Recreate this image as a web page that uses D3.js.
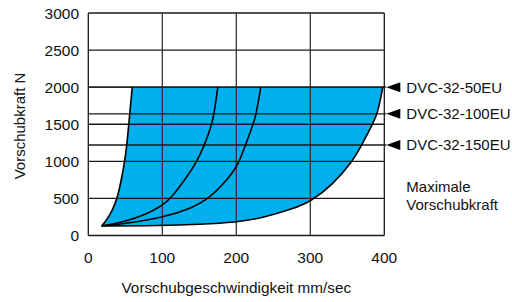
<!DOCTYPE html>
<html>
<head>
<meta charset="utf-8">
<script src="https://cdn.jsdelivr.net/npm/d3@7"></script>
<style>
  body { margin: 0; background: #fff; }
  text { font-family: "Liberation Sans", Arial, sans-serif; fill: #111; }
</style>
</head>
<body>
<div id="chart"></div>
<script>
// values: [speed mm/sec, force N]
const curve50 = [[18, 128], [24.8, 209], [31.6, 321], [39.7, 500], [48.6, 953], [52, 1210], [54.7, 1500], [56, 1640], [59.4, 2000]];
const curve100 = [[18, 128], [49.5, 186], [76.5, 277], [100, 402], [111.6, 500], [135, 816], [144, 953], [157, 1210], [167, 1500], [170, 1640], [175, 2000]];
const curve150 = [[18, 128], [54, 165], [100, 240], [139.5, 367], [164, 500], [191, 790], [202.4, 953], [212, 1210], [223, 1500], [227, 1640], [233, 2000]];
const curveMax = [[18, 128], [100, 132], [150, 150], [200, 178], [234, 232], [279, 367], [300, 456], [330, 680], [357, 1000], [369, 1210], [384, 1500], [391, 1640], [398, 2000]];

const models = ['DVC-32-50EU', 'DVC-32-100EU', 'DVC-32-150EU'];
const modelForce = [2000, 1640, 1220];

const yTicks = [0, 500, 1000, 1500, 2000, 2500, 3000];
const xTicks = [0, 100, 200, 300, 400];

const W = 512, H = 302;
const plot = {left: 88.3, right: 384.3, top: 13, bottom: 235.5};

const svg = d3.select('#chart').append('svg')
  .attr('width', W)
  .attr('height', H);

const x = d3.scaleLinear().domain([0, 400]).range([plot.left, plot.right]);
const y = d3.scaleLinear().domain([0, 3000]).range([plot.bottom, plot.top]);

const line = d3.line()
  .x(d => x(d[0]))
  .y(d => y(d[1]))
  .curve(d3.curveBasis);

function sampled(pts) {
  // sample the smooth curve through a hidden path so the fill follows the stroke
  const p = svg.append('path').attr('d', line(pts)).attr('visibility', 'hidden');
  const node = p.node();
  const len = node.getTotalLength();
  const out = [];
  for (let i = 0; i <= 200; i++) {
    const pt = node.getPointAtLength(len * i / 200);
    out.push([x.invert(pt.x), y.invert(pt.y)]);
  }
  p.remove();
  return out;
}

// blue area: left curve up, across the top, right curve down
svg.append('path')
  .attr('d', d3.line().x(d => x(d[0])).y(d => y(d[1]))(
    sampled(curve50).concat(sampled(curveMax).reverse())))
  .attr('fill', '#00b0ee');

// grid
const grid = svg.append('g').attr('stroke', '#1a1a1a').attr('stroke-width', 1.3);
grid.selectAll('line.h')
  .data(yTicks)
  .join('line')
  .attr('x1', plot.left).attr('x2', plot.right)
  .attr('y1', d => y(d)).attr('y2', d => y(d));
grid.selectAll('line.v')
  .data(xTicks)
  .join('line')
  .attr('x1', d => x(d)).attr('x2', d => x(d))
  .attr('y1', plot.top).attr('y2', plot.bottom)
  .attr('stroke', (d, i) => (i === 0 || i === 4) ? '#1a1a1a' : '#333');

// model force lines and arrows
grid.selectAll('line.m')
  .data(modelForce)
  .join('line')
  .attr('x1', plot.left).attr('x2', plot.right + 2)
  .attr('y1', d => y(d)).attr('y2', d => y(d));

svg.selectAll('path.arrow')
  .data(modelForce)
  .join('path')
  .attr('d', d => {
    const yy = y(d);
    return `M${plot.right + 2},${yy}L${plot.right + 16},${yy - 5}L${plot.right + 16},${yy + 5}Z`;
  })
  .attr('fill', '#000');

svg.selectAll('text.model')
  .data(models)
  .join('text')
  .attr('x', plot.right + 22)
  .attr('y', (d, i) => y(modelForce[i]))
  .attr('dy', '0.36em')
  .attr('font-size', 15)
  .text(d => d);

// curves
[curve50, curve100, curve150, curveMax].forEach(c => {
  svg.append('path')
    .attr('d', line(c))
    .attr('fill', 'none')
    .attr('stroke', '#000')
    .attr('stroke-width', 1.6);
});

// tick labels
svg.selectAll('text.ytick')
  .data(yTicks)
  .join('text')
  .attr('x', 79)
  .attr('y', d => y(d))
  .attr('dy', '0.36em')
  .attr('text-anchor', 'end')
  .attr('font-size', 15.5)
  .text(d => d);

svg.selectAll('text.xtick')
  .data(xTicks)
  .join('text')
  .attr('x', d => x(d))
  .attr('y', 263)
  .attr('text-anchor', 'middle')
  .attr('font-size', 15.5)
  .text(d => d);

// axis titles
svg.append('text')
  .attr('x', x(200))
  .attr('y', 293)
  .attr('text-anchor', 'middle')
  .attr('font-size', 15.3)
  .text('Vorschubgeschwindigkeit mm/sec');

svg.append('text')
  .attr('transform', 'translate(24.5,126) rotate(-90)')
  .attr('text-anchor', 'middle')
  .attr('font-size', 15)
  .text('Vorschubkraft N');

svg.append('text')
  .attr('x', plot.right + 22)
  .attr('y', 192)
  .attr('font-size', 15)
  .text('Maximale');
svg.append('text')
  .attr('x', plot.right + 22)
  .attr('y', 210)
  .attr('font-size', 15)
  .text('Vorschubkraft');
</script>
</body>
</html>
